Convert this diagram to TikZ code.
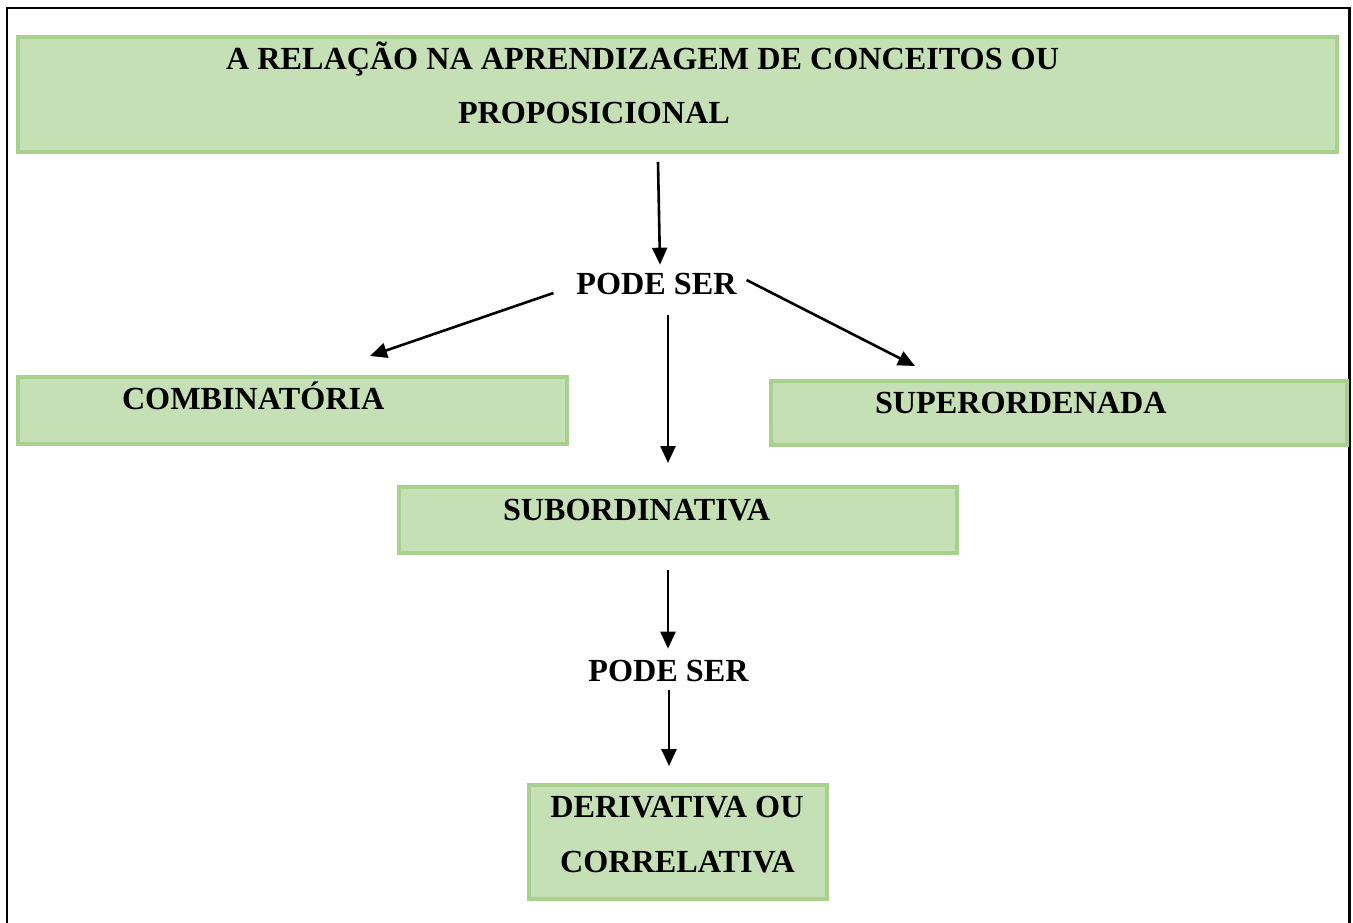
\documentclass[tikz,border=0pt]{standalone}
\usepackage{fontspec}
\setmainfont{Liberation Serif}
\usetikzlibrary{arrows.meta,calc}
\definecolor{boxfill}{HTML}{C5E0B4}
\definecolor{boxline}{HTML}{A9D18E}
\begin{document}
\begin{tikzpicture}[x=1pt,y=-1pt,
  panel/.style={draw=boxline,fill=boxfill,line width=4pt,inner sep=0pt,outer sep=0pt},
  lbl/.style={font=\fontsize{32.2}{38}\selectfont\bfseries,inner sep=0pt,outer sep=0pt,anchor=base west},
  clbl/.style={lbl,anchor=base},
  arr/.style={line width=2.6pt,-{Triangle[length=17pt,width=15pt]}}]
\useasboundingbox (0,0) rectangle (1353,923);
% outer frame, open at the bottom
\draw[line width=2.6pt] (7,923) -- (7,8) -- (1349.5,8) -- (1349.5,923);

% boxes
\node[panel,minimum width=1319pt,minimum height=115pt] (top) at (677.5,94.5) {};
\node[panel,minimum width=549pt,minimum height=67pt] (comb) at (292.5,410.5) {};
\node[panel,minimum width=576pt,minimum height=64pt] (super) at (1059,413) {};
\node[panel,minimum width=558pt,minimum height=66pt] (sub) at (678,520) {};
\node[panel,minimum width=298pt,minimum height=114pt] (der) at (678,842) {};

% box texts
\node[lbl] (toptxtA) at (226,70) {A RELAÇÃO NA APRENDIZAGEM DE CONCEITOS OU};
\node[lbl] (toptxtB) at (458,124) {PROPOSICIONAL};
\node[lbl] (combtxt) at (122,409) {COMBINATÓRIA};
\node[lbl] (supertxt) at (875,413) {SUPERORDENADA};
\node[lbl] (subtxt) at (503,520) {SUBORDINATIVA};
\node[clbl] (dertxtA) at (677,817) {DERIVATIVA OU};
\node[clbl] (dertxtB) at (677.5,872) {CORRELATIVA};

% link words
\node[clbl] (pode1) at (656.5,294) {PODE SER};
\node[clbl] (pode2) at (668.5,681) {PODE SER};

% connectors
\draw[arr] ([xshift=-19.5pt,yshift=-10pt]top.south) -- ([xshift=3.5pt,yshift=8pt]pode1.north);
\draw[arr] ([xshift=-23pt,yshift=-9.5pt]pode1.west) -- ([xshift=77.5pt,yshift=21pt]comb.north);
\draw[arr] ([xshift=10pt,yshift=3.5pt]pode1.east) -- ([xshift=-144pt,yshift=15pt]super.north);
\draw[arr] ([xshift=11.5pt,yshift=-21pt]pode1.south) -- ([xshift=-10pt,yshift=24pt]sub.north);
\draw[arr] ([xshift=-10pt,yshift=-17pt]sub.south) -- ([xshift=-0.5pt,yshift=11pt]pode2.north);
\draw[arr] ([xshift=0.5pt,yshift=-9pt]pode2.south) -- ([xshift=-9pt,yshift=19pt]der.north);
\end{tikzpicture}
\end{document}
